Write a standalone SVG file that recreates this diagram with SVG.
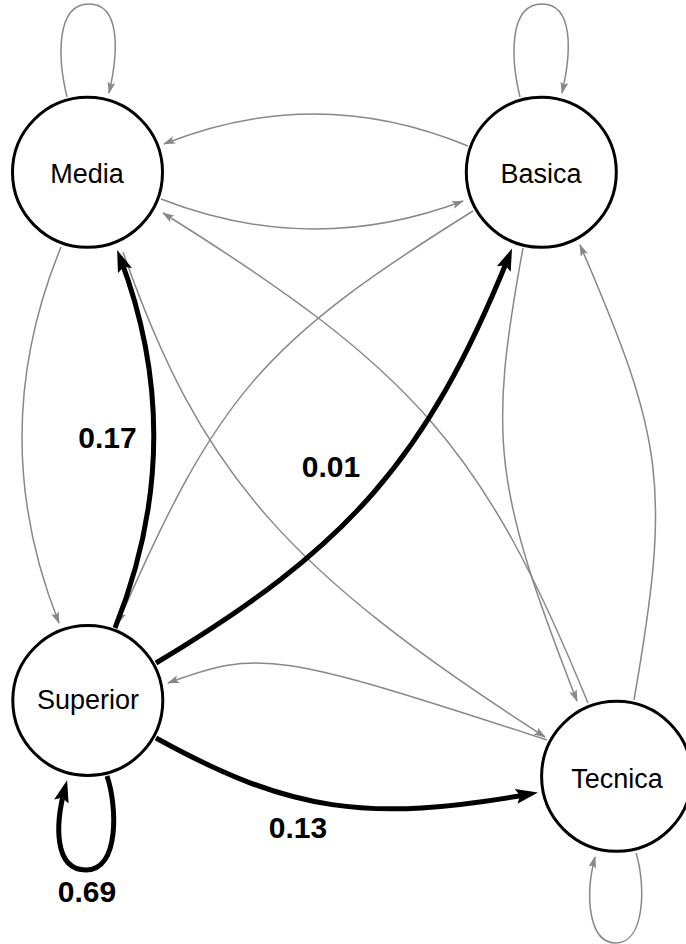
<svg xmlns="http://www.w3.org/2000/svg" width="686" height="944" viewBox="0 0 686 944">
  <style>
    .node circle { fill: #ffffff; stroke: #000000; stroke-width: 3; }
    .node text { font-family: "Liberation Sans", Arial, sans-serif; font-size: 27px; fill: #000000; text-anchor: middle; }
    .weak { fill: none; stroke: #888888; stroke-width: 1.5; marker-end: url(#ag); }
    .strong { fill: none; stroke: #000000; stroke-width: 5; marker-end: url(#ab); }
    .lbl { font-family: "Liberation Sans", Arial, sans-serif; font-size: 30px; font-weight: bold; fill: #000000; text-anchor: middle; }
  </style>
  <defs>
    <marker id="ag" markerWidth="13" markerHeight="9" refX="11" refY="4" orient="auto" markerUnits="userSpaceOnUse">
      <path d="M0,0 L12,4 L0,8 L2.5,4 z" fill="#888888"/>
    </marker>
    <marker id="ab" markerWidth="23" markerHeight="16" refX="14" refY="7.5" orient="auto" markerUnits="userSpaceOnUse">
      <path d="M0,0 L22,7.5 L0,15 L4,7.5 z" fill="#000000"/>
    </marker>
  </defs>
  <rect width="686" height="944" fill="#ffffff"/>
  <g id="connectors">
    <path id="e-media-media" class="weak" d="M67,97 C58,60 55,4 89,4 C120,4 119,50 109,93"/>
    <path id="e-basica-basica" class="weak" d="M520,97 C511,60 508,4 542,4 C573,4 572,50 562,93"/>
    <path id="e-tecnica-tecnica" class="weak" d="M636,853 C646,885 645,943 616,943 C588,943 585,895 595,857"/>
    <path id="e-basica-media" class="weak" d="M468,146 Q316,83 164,144"/>
    <path id="e-media-basica" class="weak" d="M161,199 Q312,258 463,201"/>
    <path id="e-media-superior" class="weak" d="M61,247 Q-16,435 59,623"/>
    <path id="e-basica-superior" class="weak" d="M473,211 C263,342 217,395 118,623"/>
    <path id="e-media-tecnica" class="weak" d="M123,252 C200,472 285,570 545,737"/>
    <path id="e-tecnica-media" class="weak" d="M588,703 C484,449 416,371 163,213"/>
    <path id="e-basica-tecnica" class="weak" d="M523,248 C488,439 493,485 577,701"/>
    <path id="e-tecnica-basica" class="weak" d="M634,700 C671,487 665,441 580,245"/>
    <path id="e-tecnica-superior" class="weak" d="M547,740 C278,652 259,649 168,683"/>
    <path id="e-superior-media" class="strong" d="M115,628 Q190,441 120,257.5"/>
    <path id="e-superior-basica" class="strong" d="M156,663 C348,548 427,459 509,256"/>
    <path id="e-superior-tecnica" class="strong" d="M156,738 C290,812 367,823 530,794"/>
    <path id="e-superior-superior" class="strong" d="M107,776 C117,805 120,870 86,870 C54,870 55,825 65,788"/>
    <text class="lbl" x="107.5" y="448">0.17</text>
    <text class="lbl" x="331" y="477">0.01</text>
    <text class="lbl" x="298" y="838">0.13</text>
    <text class="lbl" x="87" y="902">0.69</text>
  </g>
  <g id="node-media" class="node">
    <circle cx="87.5" cy="172.3" r="75"/>
    <text x="87" y="183">Media</text>
  </g>
  <g id="node-basica" class="node">
    <circle cx="541.3" cy="172.3" r="75"/>
    <text x="541" y="183">Basica</text>
  </g>
  <g id="node-superior" class="node">
    <circle cx="87.8" cy="700.5" r="75"/>
    <text x="88" y="709">Superior</text>
  </g>
  <g id="node-tecnica" class="node">
    <circle cx="616.6" cy="776.3" r="75"/>
    <text x="617" y="788">Tecnica</text>
  </g>
</svg>
